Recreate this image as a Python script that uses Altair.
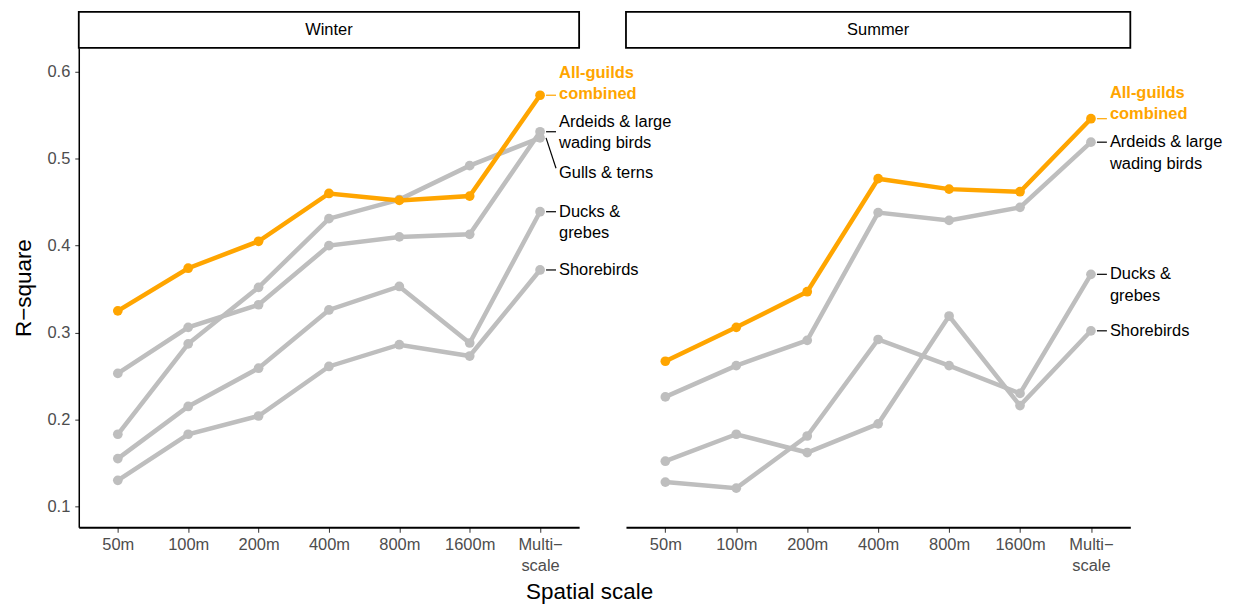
import altair as alt
import pandas as pd

scales = ["50m", "100m", "200m", "400m", "800m", "1600m", "Multi-scale"]
guilds = ["All-guilds combined", "Ardeids & large wading birds", "Gulls & terns",
          "Ducks & grebes", "Shorebirds"]

winter_all = [0.325, 0.374, 0.405, 0.460, 0.452, 0.457, 0.573]
winter_ardeids = [0.253, 0.306, 0.332, 0.400, 0.410, 0.413, 0.531]
winter_gulls = [0.183, 0.287, 0.352, 0.431, 0.453, 0.492, 0.524]
winter_ducks = [0.155, 0.215, 0.259, 0.326, 0.353, 0.288, 0.439]
winter_shore = [0.130, 0.183, 0.204, 0.261, 0.286, 0.273, 0.372]

summer_all = [0.267, 0.306, 0.347, 0.477, 0.465, 0.462, 0.546]
summer_ardeids = [0.226, 0.262, 0.291, 0.438, 0.429, 0.444, 0.519]
summer_ducks = [0.128, 0.121, 0.181, 0.292, 0.262, 0.230, 0.367]
summer_shore = [0.152, 0.183, 0.162, 0.195, 0.319, 0.216, 0.302]

# guild labels at the multi-scale end (ggrepel-like placement);
# lab_y is the level of the first text line
lab_season = ["Winter"] * 5 + ["Summer"] * 4
lab_text = ["All-guilds\ncombined", "Ardeids & large\nwading birds", "Gulls & terns",
            "Ducks &\ngrebes", "Shorebirds",
            "All-guilds\ncombined", "Ardeids & large\nwading birds", "Ducks &\ngrebes",
            "Shorebirds"]
lab_point = [0.573, 0.531, 0.524, 0.439, 0.372, 0.546, 0.519, 0.367, 0.302]
lab_y = [0.5989, 0.5427, 0.483, 0.439, 0.372, 0.5759, 0.519, 0.367, 0.302]
lab_conn = [0.573, 0.531, 0.489, 0.439, 0.372, 0.546, 0.519, 0.367, 0.302]
lab_hl = [True, False, False, False, False, True, False, False, False]

GRAY = "#BEBEBE"
ORANGE = "#FFA500"
FONT = "Liberation Sans"

series = {
    "Winter": [winter_all, winter_ardeids, winter_gulls, winter_ducks, winter_shore],
    "Summer": [summer_all, summer_ardeids, None, summer_ducks, summer_shore],
}
rows = []
for season, lists in series.items():
    for g, vals in zip(guilds, lists):
        if vals is None:
            continue
        for i, (s, v) in enumerate(zip(scales, vals)):
            rows.append(dict(season=season, guild=g, scale=s, idx=i, r2=v,
                             hl=(g == "All-guilds combined")))
df = pd.DataFrame(rows)

labels = pd.DataFrame(dict(season=lab_season, text=lab_text, pt=lab_point,
                           ly=lab_y, conn=lab_conn, hl=lab_hl))
labels["scale"] = "Multi-scale"

YDOM = [0.076, 0.6275]
H = 481
PAD = 0.555


def panel(season, width, first):
    d = df[df.season == season]
    ld = labels[labels.season == season]
    xaxis_kw = dict(
        labelExpr="datum.value == 'Multi-scale' ? ['Multi\u2212', 'scale'] : datum.value",
        labelFontSize=16.5, labelColor="#4d4d4d", labelLineHeight=21, labelFont=FONT,
        labelAngle=0, labelPadding=4, tickSize=5, tickColor="#333333", tickWidth=1,
        domainColor="black", domainWidth=2, grid=False,
    )
    xs = alt.Scale(type="point", padding=PAD)
    if first:
        xaxis = alt.Axis(title="Spatial scale", titleX=512, titleY=71,
                         titleBaseline="alphabetic", titleAlign="center",
                         titleFontSize=22.5, titleFontWeight="normal", titleColor="black",
                         titleFont=FONT, **xaxis_kw)
        yaxis = alt.Axis(values=[0.1, 0.2, 0.3, 0.4, 0.5, 0.6], format=".1f",
                         title="R\u2212square", titleFontSize=22.5, titleFontWeight="normal",
                         titleColor="black", titleFont=FONT, titlePadding=11,
                         labelFontSize=16.5, labelColor="#4d4d4d", labelFont=FONT,
                         labelPadding=5, tickSize=4, tickColor="#333333",
                         domainColor="black", domainWidth=1.5, grid=False)
        x = alt.X("scale:N", sort=scales, scale=xs, axis=xaxis)
        y = alt.Y("r2:Q", scale=alt.Scale(domain=YDOM, nice=False, zero=False), axis=yaxis)
    else:
        xaxis = alt.Axis(**xaxis_kw)
        x = alt.X("scale:N", sort=scales, scale=xs, axis=xaxis, title=None)
        y = alt.Y("r2:Q", scale=alt.Scale(domain=YDOM, nice=False, zero=False), axis=None)

    base = alt.Chart(d)
    gray = base.transform_filter("!datum.hl")
    orange = base.transform_filter("datum.hl")
    gl = gray.mark_line(color=GRAY, strokeWidth=4.5).encode(
        x=x, y=y, detail="guild:N", order="idx:Q")
    gp = gray.mark_circle(color=GRAY, size=95, opacity=1).encode(x=x, y=y)
    ol = orange.mark_line(color=ORANGE, strokeWidth=4.5).encode(
        x=x, y=y, order="idx:Q")
    op = orange.mark_circle(color=ORANGE, size=95, opacity=1).encode(x=x, y=y)

    lb = alt.Chart(ld)
    conn_g = lb.transform_filter("!datum.hl").mark_rule(
        color="black", strokeWidth=1.2, xOffset=6, x2Offset=16).encode(
        x=alt.X("scale:N", sort=scales), x2="scale:N",
        y=alt.Y("pt:Q"), y2="conn:Q")
    conn_o = lb.transform_filter("datum.hl").mark_rule(
        color=ORANGE, strokeWidth=1.2, xOffset=6, x2Offset=16).encode(
        x=alt.X("scale:N", sort=scales), x2="scale:N",
        y=alt.Y("pt:Q"), y2="conn:Q")
    txt_g = lb.transform_filter("!datum.hl").mark_text(
        align="left", baseline="middle", dx=19, fontSize=16.5, lineHeight=21.5,
        lineBreak="\n", color="black", font=FONT).encode(
        x=alt.X("scale:N", sort=scales), y=alt.Y("ly:Q"), text="text:N")
    txt_o = lb.transform_filter("datum.hl").mark_text(
        align="left", baseline="middle", dx=19, fontSize=16.5, lineHeight=21.5,
        lineBreak="\n", color=ORANGE, fontWeight="bold", font=FONT).encode(
        x=alt.X("scale:N", sort=scales), y=alt.Y("ly:Q"), text="text:N")

    sd = alt.Chart(pd.DataFrame({"season": [season]}))
    strip = sd.mark_rect(fill="white", stroke="black", strokeWidth=1.8).encode(
        x=alt.value(0), x2=alt.value(width), y=alt.value(-36), y2=alt.value(0))
    strip_t = sd.mark_text(fontSize=16.5, color="black", font=FONT, baseline="middle").encode(
        x=alt.value(width / 2), y=alt.value(-18), text="season:N")

    return alt.layer(gl, gp, ol, op, conn_g, conn_o, txt_g, txt_o, strip, strip_t).properties(
        width=width, height=H)


chart = alt.hconcat(panel("Winter", 502, True), panel("Summer", 506, False),
                    spacing=47, bounds="flush").properties(
    padding={"left": 5, "top": 2, "right": 5, "bottom": 5}
).configure(font=FONT).configure_view(stroke=None, strokeWidth=0)

chart.save("out.html", embed_options={"renderer": "svg", "actions": False})
